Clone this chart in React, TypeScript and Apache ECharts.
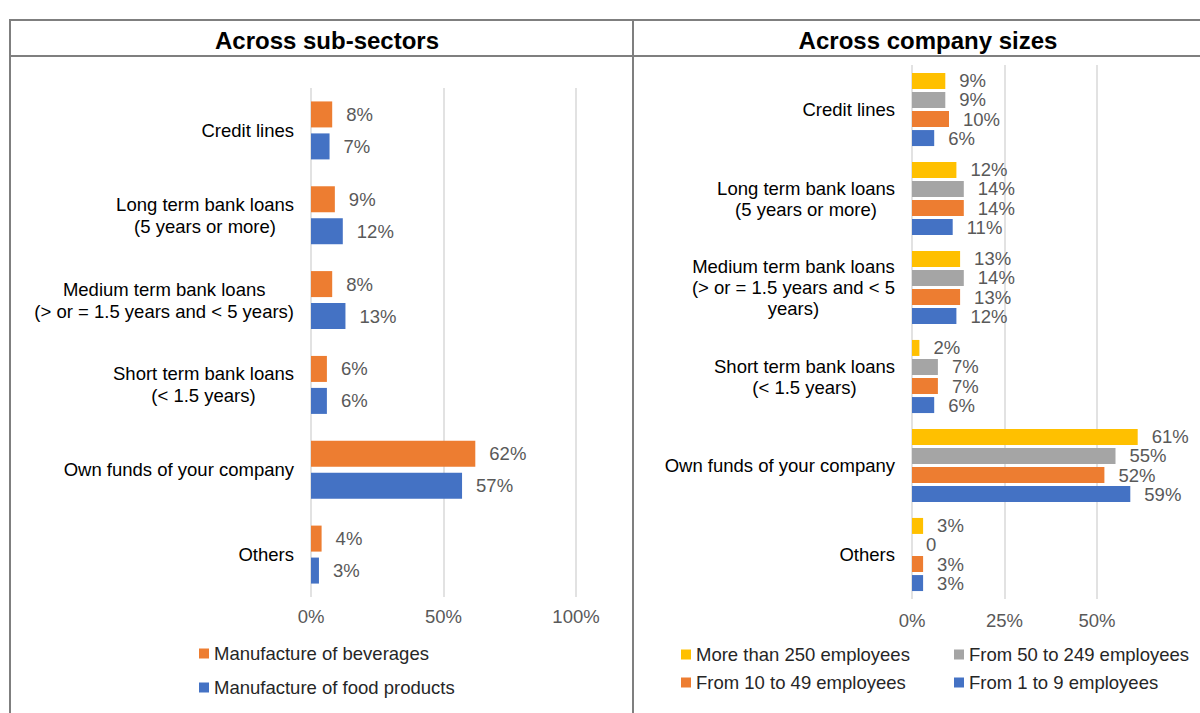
import React, { useEffect, useRef } from "react";
import * as echarts from "echarts";

const categories = [
  "Credit lines",
  "Long term bank loans\n(5 years or more)",
  "Medium term bank loans\n(> or = 1.5 years and < 5 years)",
  "Short term bank loans\n(< 1.5 years)",
  "Own funds of your company",
  "Others",
];
const categoriesRight = [
  "Credit lines",
  "Long term bank loans\n(5 years or more)",
  "Medium term bank loans\n(> or = 1.5 years and < 5\nyears)",
  "Short term bank loans\n(< 1.5 years)",
  "Own funds of your company",
  "Others",
];

const subSectorNames = ["Manufacture of beverages", "Manufacture of food products"];
const beverages = [8, 9, 8, 6, 62, 4];
const foodProducts = [7, 12, 13, 6, 57, 3];

const sizeNames = [
  "More than 250 employees",
  "From 50 to 249 employees",
  "From 10 to 49 employees",
  "From 1 to 9 employees",
];
const more250 = [9, 12, 13, 2, 61, 3];
const from50to249 = [9, 14, 14, 7, 55, 0];
const from10to49 = [10, 14, 13, 7, 52, 3];
const from1to9 = [6, 11, 12, 6, 59, 3];

const leftTicks = [0, 50, 100];
const rightTicks = [0, 25, 50, 75];

const titles = ["Across sub-sectors", "Across company sizes"];

const ORANGE = "#ED7D31";
const BLUE = "#4472C4";
const YELLOW = "#FFC000";
const GRAY = "#A5A5A5";

const FONT = "'Liberation Sans', Arial, sans-serif";
const FS = 18.5;

export default function App() {
  const ref = useRef<HTMLDivElement>(null);

  useEffect(() => {
    if (!ref.current) return;
    const chart = echarts.init(ref.current, undefined, { renderer: "svg" });

    const catLabel = (v: string) =>
      v
        .split("\n")
        .map((l) => `{c|${l}}`)
        .join("\n");

    const valueLabel = {
      show: true,
      position: "right" as const,
      distance: 14,
      color: "#595959",
      fontSize: FS,
      fontFamily: FONT,
      formatter: (p: any) => (p.value === 0 ? "0" : p.value + "%"),
    };

    const borderColor = "#7F7F7F";
    const legendText = { fontSize: FS, color: "#262626", fontFamily: FONT };

    const option: any = {
      animation: false,
      backgroundColor: "#fff",
      textStyle: { fontFamily: FONT },
      title: [
        {
          text: titles[0],
          left: 322,
          top: 23,
          textAlign: "center",
          textStyle: { fontFamily: FONT, fontWeight: "bold", fontSize: 24, color: "#000" },
        },
        {
          text: titles[1],
          left: 923,
          top: 23,
          textAlign: "center",
          textStyle: { fontFamily: FONT, fontWeight: "bold", fontSize: 24, color: "#000" },
        },
      ],
      graphic: [
        { type: "line", shape: { x1: 9, y1: 20, x2: 1200, y2: 20 }, style: { stroke: borderColor, lineWidth: 2 } },
        { type: "line", shape: { x1: 9, y1: 56, x2: 1200, y2: 56 }, style: { stroke: borderColor, lineWidth: 2 } },
        { type: "line", shape: { x1: 10, y1: 20, x2: 10, y2: 713 }, style: { stroke: borderColor, lineWidth: 2 } },
        { type: "line", shape: { x1: 633, y1: 20, x2: 633, y2: 713 }, style: { stroke: borderColor, lineWidth: 2 } },
      ],
      legend: [
        {
          data: subSectorNames,
          orient: "vertical",
          left: 194,
          top: 639,
          itemWidth: 10,
          itemHeight: 10,
          itemGap: 15,
          icon: "rect",
          textStyle: legendText,
        },
        {
          data: [sizeNames[0], sizeNames[2]],
          orient: "vertical",
          left: 676,
          top: 640,
          itemWidth: 10,
          itemHeight: 10,
          itemGap: 9,
          icon: "rect",
          textStyle: legendText,
        },
        {
          data: [sizeNames[1], sizeNames[3]],
          orient: "vertical",
          left: 949,
          top: 640,
          itemWidth: 10,
          itemHeight: 10,
          itemGap: 9,
          icon: "rect",
          textStyle: legendText,
        },
      ],
      grid: [
        { left: 311, width: 265, top: 88, height: 509 },
        { left: 912, width: 277.5, top: 65, height: 534 },
      ],
      xAxis: [
        {
          gridIndex: 0,
          type: "value",
          min: leftTicks[0],
          max: leftTicks[leftTicks.length - 1],
          interval: 50,
          axisLine: { show: false },
          axisTick: { show: false },
          splitLine: { show: true, lineStyle: { color: "#D9D9D9", width: 1.5 } },
          axisLabel: { formatter: "{value}%", color: "#595959", fontSize: FS, margin: 10, fontFamily: FONT },
        },
        {
          gridIndex: 1,
          type: "value",
          min: rightTicks[0],
          max: rightTicks[rightTicks.length - 1],
          interval: 25,
          axisLine: { show: false },
          axisTick: { show: false },
          splitLine: {
            show: true,
            lineStyle: { color: ["#D9D9D9", "#D9D9D9", "#D9D9D9", "rgba(0,0,0,0)"], width: 1.5 },
          },
          axisLabel: {
            formatter: (v: number) => (v === 75 ? "" : v + "%"),
            color: "#595959",
            fontSize: FS,
            margin: 12,
            fontFamily: FONT,
          },
        },
      ],
      yAxis: [
        {
          gridIndex: 0,
          type: "category",
          inverse: true,
          data: categories,
          axisLine: { show: false },
          axisTick: { show: false },
          axisLabel: {
            margin: 17,
            color: "#000",
            fontSize: FS,
            lineHeight: 22,
            fontFamily: FONT,
            formatter: catLabel,
            rich: { c: { align: "center", fontSize: FS, lineHeight: 22, color: "#000", fontFamily: FONT } },
          },
        },
        {
          gridIndex: 1,
          type: "category",
          inverse: true,
          data: categoriesRight,
          axisLine: { show: false },
          axisTick: { show: false },
          axisLabel: {
            margin: 17,
            color: "#000",
            fontSize: FS,
            lineHeight: 21,
            fontFamily: FONT,
            formatter: catLabel,
            rich: { c: { align: "center", fontSize: FS, lineHeight: 21, color: "#000", fontFamily: FONT } },
          },
        },
      ],
      series: [
        {
          name: subSectorNames[0],
          type: "bar",
          xAxisIndex: 0,
          yAxisIndex: 0,
          data: beverages,
          barWidth: 26,
          barGap: "23%",
          itemStyle: { color: ORANGE },
          label: valueLabel,
        },
        {
          name: subSectorNames[1],
          type: "bar",
          xAxisIndex: 0,
          yAxisIndex: 0,
          data: foodProducts,
          barWidth: 26,
          barGap: "23%",
          itemStyle: { color: BLUE },
          label: valueLabel,
        },
        {
          name: sizeNames[0],
          type: "bar",
          xAxisIndex: 1,
          yAxisIndex: 1,
          data: more250,
          barWidth: 16,
          barGap: "19%",
          itemStyle: { color: YELLOW },
          label: valueLabel,
        },
        {
          name: sizeNames[1],
          type: "bar",
          xAxisIndex: 1,
          yAxisIndex: 1,
          data: from50to249,
          barWidth: 16,
          barGap: "19%",
          itemStyle: { color: GRAY },
          label: valueLabel,
        },
        {
          name: sizeNames[2],
          type: "bar",
          xAxisIndex: 1,
          yAxisIndex: 1,
          data: from10to49,
          barWidth: 16,
          barGap: "19%",
          itemStyle: { color: ORANGE },
          label: valueLabel,
        },
        {
          name: sizeNames[3],
          type: "bar",
          xAxisIndex: 1,
          yAxisIndex: 1,
          data: from1to9,
          barWidth: 16,
          barGap: "19%",
          itemStyle: { color: BLUE },
          label: valueLabel,
        },
      ],
    };

    chart.setOption(option);
    return () => chart.dispose();
  }, []);

  return (
    <div
      ref={ref}
      style={{ position: "fixed", left: 0, top: 0, width: 1200, height: 713, background: "#fff" }}
    />
  );
}
